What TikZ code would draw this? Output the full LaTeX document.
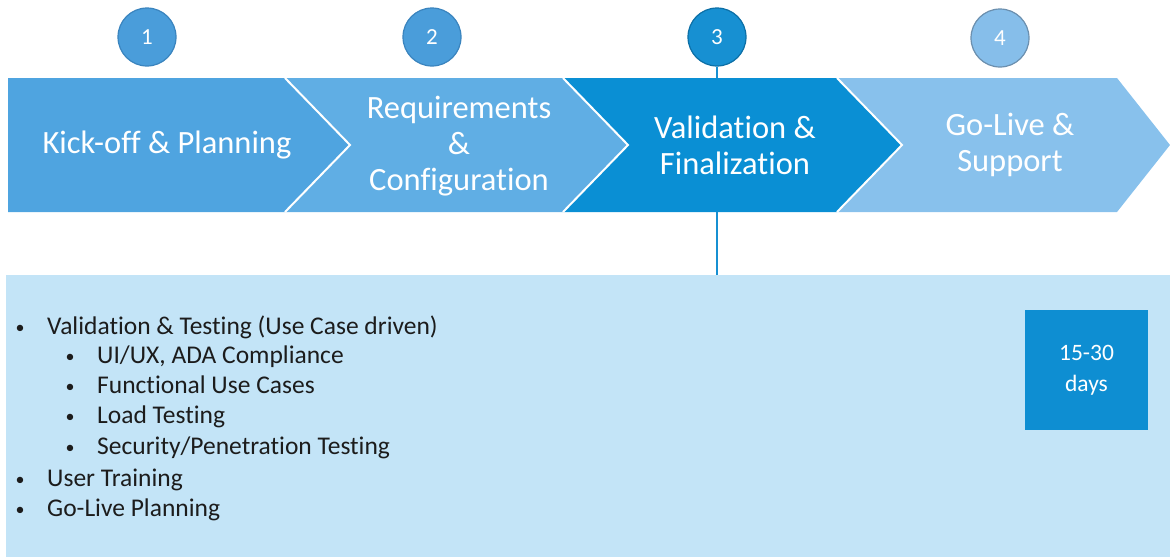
\documentclass[tikz,border=0pt]{standalone}
\usepackage{fontspec}
\setmainfont[Ligatures=NoCommon]{Carlito}
\definecolor{chevA}{HTML}{4FA4E0}
\definecolor{chevB}{HTML}{60AEE4}
\definecolor{chevC}{HTML}{0A8FD4}
\definecolor{chevD}{HTML}{88C1EC}
\definecolor{circA}{HTML}{4A9DDA}
\definecolor{circAb}{HTML}{3A84BE}
\definecolor{circC}{HTML}{1790D2}
\definecolor{circCb}{HTML}{0C6FA6}
\definecolor{circD}{HTML}{86BEEA}
\definecolor{circDb}{HTML}{6B8FAE}
\definecolor{panel}{HTML}{C3E4F7}
\definecolor{daysbox}{HTML}{0E8ED2}
\definecolor{listtext}{HTML}{1C1C1C}
\tikzset{
  numcircle/.style={circle, minimum size=58pt, inner sep=0pt, line width=1.2pt, text=white, font=\fontsize{23}{25}\selectfont},
  chevtext/.style={text=white, align=center, font=\fontsize{32.5}{36}\selectfont},
  listitem/.style={anchor=base west, inner sep=0pt, text=listtext, font=\fontsize{25.5}{30}\selectfont},
  bulletdot/.style={anchor=base, inner sep=0pt, text=listtext, font=\fontsize{18}{25}\selectfont},
  sep/.style={draw=white, line width=2pt},
}
\begin{document}
\begin{tikzpicture}[x=1pt,y=-1pt]
\useasboundingbox (0,0) rectangle (1170,557);
% details panel
\node[fill=panel, minimum width=1164pt, minimum height=282pt, anchor=north west, inner sep=0pt] (details) at (6,275) {};
% circle 3 (drawn early so its connector is behind the chevrons)
\node[numcircle, fill=circC, draw=circCb] (c3) at (717,37) {3};
\draw[circC, line width=2pt] (c3.south) -- (c3 |- details.north);
% chevrons
\fill[chevA] (8,78) -- (285,78) -- (350,145) -- (285,212) -- (8,212) -- cycle;
\fill[chevB] (285,78) -- (563,78) -- (628,145) -- (563,212) -- (285,212) -- (350,145) -- cycle;
\fill[chevC] (563,78) -- (837,78) -- (902,145) -- (837,212) -- (563,212) -- (628,145) -- cycle;
\fill[chevD] (837,78) -- (1117,78) -- (1170,145) -- (1117,212) -- (837,212) -- (902,145) -- cycle;
\draw[sep] (285,78) -- (350,145) -- (285,212);
\draw[sep] (563,78) -- (628,145) -- (563,212);
\draw[sep] (837,78) -- (902,145) -- (837,212);
% chevron labels
\node[chevtext] (t1) at (167,145) {Kick-off \& Planning};
\node[chevtext] (t2) at (459,146) {Requirements\\\&\\Configuration};
\node[chevtext] (t3) at (735,145) {Validation \&\\Finalization};
\node[chevtext] (t4) at (1010,145) {Go-Live \&\\Support};
% circles
\node[numcircle, fill=circA, draw=circAb] (c1) at (147,37) {1};
\node[numcircle, fill=circA, draw=circAb] (c2) at (432,37) {2};
\node[numcircle, fill=circD, draw=circDb] (c4) at (1000,38) {4};
% list
\node[bulletdot] (b1) at (20,333) {•};
\node[listitem] (l1) at (47,334) {Validation \& Testing (Use Case driven)};
\node[bulletdot] (b2) at (70,362) {•};
\node[listitem] (l2) at (97,363) {UI/UX, ADA Compliance};
\node[bulletdot] (b3) at (70,392) {•};
\node[listitem] (l3) at (97,393) {Functional Use Cases};
\node[bulletdot] (b4) at (70,422) {•};
\node[listitem] (l4) at (97,423) {Load Testing};
\node[bulletdot] (b5) at (70,453) {•};
\node[listitem] (l5) at (97,454) {Security/Penetration Testing};
\node[bulletdot] (b6) at (20,485) {•};
\node[listitem] (l6) at (47,486) {User Training};
\node[bulletdot] (b7) at (20,515) {•};
\node[listitem] (l7) at (47,516) {Go-Live Planning};
% days box
\node[fill=daysbox, minimum width=123pt, minimum height=120pt, inner sep=0pt, text=white, align=center, font=\fontsize{23.5}{31}\selectfont] (days) at (1086.5,370) {15-30\\days};
\end{tikzpicture}
\end{document}
